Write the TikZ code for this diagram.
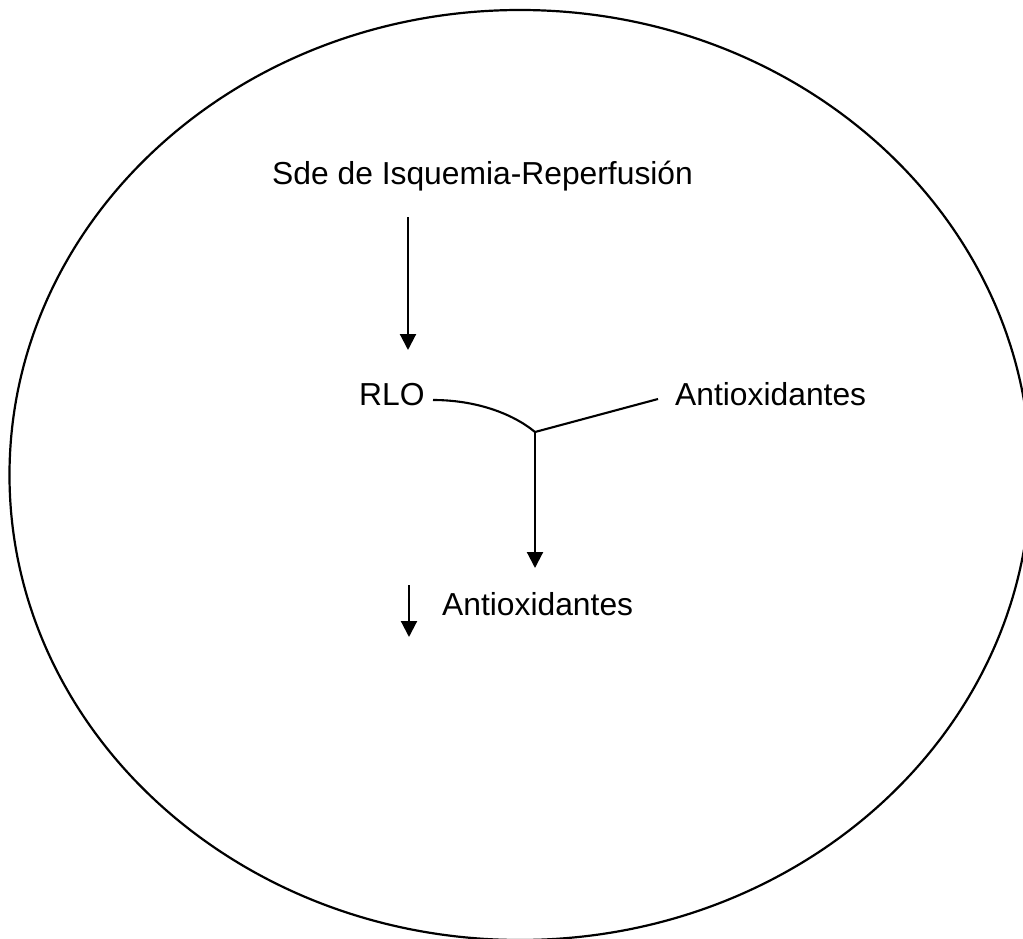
\documentclass[tikz,border=0pt]{standalone}
\usepackage{fontspec}
\setmainfont{Liberation Sans}
\usetikzlibrary{arrows.meta}
\tikzset{
  lbl/.style={anchor=base west, inner sep=0pt, font=\fontsize{31.8}{38}\selectfont},
  link/.style={line width=2.1pt, line cap=butt},
  arrowlink/.style={link, -{Triangle[width=16pt,length=16pt]}},
  outline/.style={line width=2.2pt}
}
\begin{document}
\begin{tikzpicture}[x=1pt,y=-1pt]
  \useasboundingbox (0,0) rectangle (1023,939);
  \clip (0,0) rectangle (1023,939);

  % enclosing ellipse
  \draw[outline] (520,475) ellipse [x radius=510.5, y radius=465];

  % labels
  \node[lbl] (sde) at (272,185) {Sde de Isquemia-Reperfusión};
  \node[lbl] (rlo) at (359,405) {RLO};
  \node[lbl] (anti) at (675,405) {Antioxidantes};
  \node[lbl] (antidown) at (442,615) {Antioxidantes};

  % connector points
  \coordinate (a1s) at (408,217);
  \coordinate (a1e) at (408,350);
  \coordinate (rloend) at (433,400);
  \coordinate (antiend) at (658,399);
  \coordinate (join) at (535,432);
  \coordinate (a2e) at (535,568);
  \coordinate (a3s) at (409,585);
  \coordinate (a3e) at (409,637);

  % connectors
  \draw[arrowlink] (a1s) -- (a1e);
  \draw[link] (rloend) .. controls (475,400) and (512,413) .. (join);
  \draw[link] (join) -- (antiend);
  \draw[arrowlink] (join) -- (a2e);
  \draw[arrowlink] (a3s) -- (a3e);
\end{tikzpicture}
\end{document}
